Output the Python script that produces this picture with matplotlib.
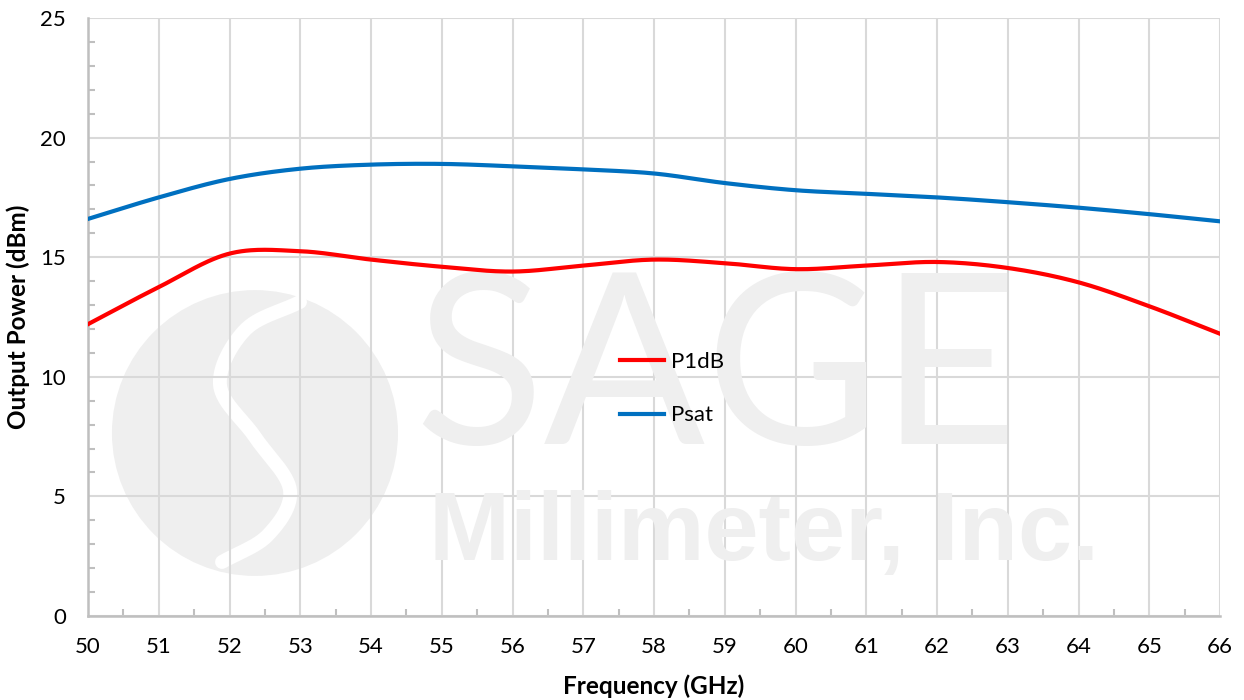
import numpy as np
import matplotlib
matplotlib.use("Agg")
import matplotlib.pyplot as plt
from matplotlib.patches import Ellipse
from matplotlib.ticker import MultipleLocator

# Data
freq = [50, 51, 52, 53, 54, 55, 56, 57, 58, 59, 60, 61, 62, 63, 64, 65, 66]
p1db = [12.2, 13.75, 15.15, 15.25, 14.9, 14.6, 14.4, 14.65, 14.9, 14.75, 14.5,
        14.65, 14.8, 14.55, 13.95, 12.95, 11.8]
psat = [16.6, 17.5, 18.27, 18.7, 18.87, 18.9, 18.8, 18.67, 18.5, 18.1, 17.8,
        17.65, 17.5, 17.3, 17.07, 16.8, 16.5]


def smooth(x, y, n=30):
    # Catmull-Rom spline, like Excel's "smoothed line"
    x = np.asarray(x, float)
    y = np.asarray(y, float)
    px = np.concatenate([[2 * x[0] - x[1]], x, [2 * x[-1] - x[-2]]])
    py = np.concatenate([[2 * y[0] - y[1]], y, [2 * y[-1] - y[-2]]])
    xs, ys = [], []
    t = np.linspace(0, 1, n, endpoint=False)
    for i in range(1, len(px) - 2):
        for arr, out in ((px, xs), (py, ys)):
            p0, p1, p2, p3 = arr[i - 1], arr[i], arr[i + 1], arr[i + 2]
            out.extend(0.5 * (2 * p1 + (-p0 + p2) * t
                              + (2 * p0 - 5 * p1 + 4 * p2 - p3) * t ** 2
                              + (-p0 + 3 * p1 - 3 * p2 + p3) * t ** 3))
    xs.append(x[-1])
    ys.append(y[-1])
    return np.array(xs), np.array(ys)


plt.rcParams["font.family"] = ["Lato", "DejaVu Sans"]

fig = plt.figure(figsize=(12.44, 7.0), dpi=100)
ax = fig.add_axes([88 / 1244, 84 / 700, 1132 / 1244, 598 / 700])

# Watermark (logo + company name)
wm = "#efefef"
ax.add_patch(Ellipse((0.1475, 0.306), 0.2527, 0.478, transform=ax.transAxes,
                     color=wm, zorder=0, lw=0))
s_x = [(300 - 88) / 1132, (245 - 88) / 1132, (220 - 88) / 1132, (255 - 88) / 1132,
       (290 - 88) / 1132, (268 - 88) / 1132, (222 - 88) / 1132]
s_y = [(616 - 302) / 598, (616 - 330) / 598, (616 - 385) / 598, (616 - 437) / 598,
       (616 - 490) / 598, (616 - 535) / 598, (616 - 562) / 598]
sx, sy = smooth(s_y, s_x)
ax.plot(sy, sx, color="white", lw=10, transform=ax.transAxes, zorder=0.5,
        solid_capstyle="round")
ax.text(0.555, 0.40, "SAGE", transform=ax.transAxes, ha="center", va="center",
        fontsize=172, color=wm, zorder=0.6)
ax.text(0.597, 0.135, "Millimeter, Inc.", transform=ax.transAxes, ha="center",
        va="center", fontsize=70, color=wm, family="Liberation Sans",
        fontweight="bold", zorder=0.6)

x1, y1 = smooth(freq, p1db)
x2, y2 = smooth(freq, psat)
ax.plot(x1, y1, color="#ff0000", lw=3, label="P1dB", zorder=3)
ax.plot(x2, y2, color="#0070c0", lw=3, label="Psat", zorder=3)

ax.set_xlim(50, 66)
ax.set_ylim(0, 25)
ax.xaxis.set_major_locator(MultipleLocator(1))
ax.xaxis.set_minor_locator(MultipleLocator(0.5))
ax.yaxis.set_major_locator(MultipleLocator(5))
ax.yaxis.set_minor_locator(MultipleLocator(1))
ax.grid(True, which="major", color="#d9d9d9", lw=1.5, zorder=1)
ax.set_axisbelow(True)

for s in ["top", "right"]:
    ax.spines[s].set_visible(False)
for s in ["left", "bottom"]:
    ax.spines[s].set_color("#bfbfbf")
    ax.spines[s].set_linewidth(1.8)

ax.tick_params(which="major", length=0, labelsize=16, colors="black")
ax.tick_params(axis="x", which="major", pad=15)
ax.tick_params(axis="y", which="major", pad=16)
ax.tick_params(which="minor", direction="in", length=5, width=1.5, color="#bfbfbf")

ax.set_xlabel("Frequency (GHz)", fontsize=17.5, fontweight="bold")
ax.set_ylabel("Output Power (dBm)", fontsize=17.5, fontweight="bold")
ax.xaxis.set_label_coords(0.5, -0.098)
ax.yaxis.set_label_coords(-0.051, 0.50)

ax.legend(loc="center left", bbox_to_anchor=(0.452, 0.38), frameon=False,
          fontsize=16, handlelength=2.0, handletextpad=0.3, labelspacing=1.5)

fig.savefig("out.png", dpi=100)
